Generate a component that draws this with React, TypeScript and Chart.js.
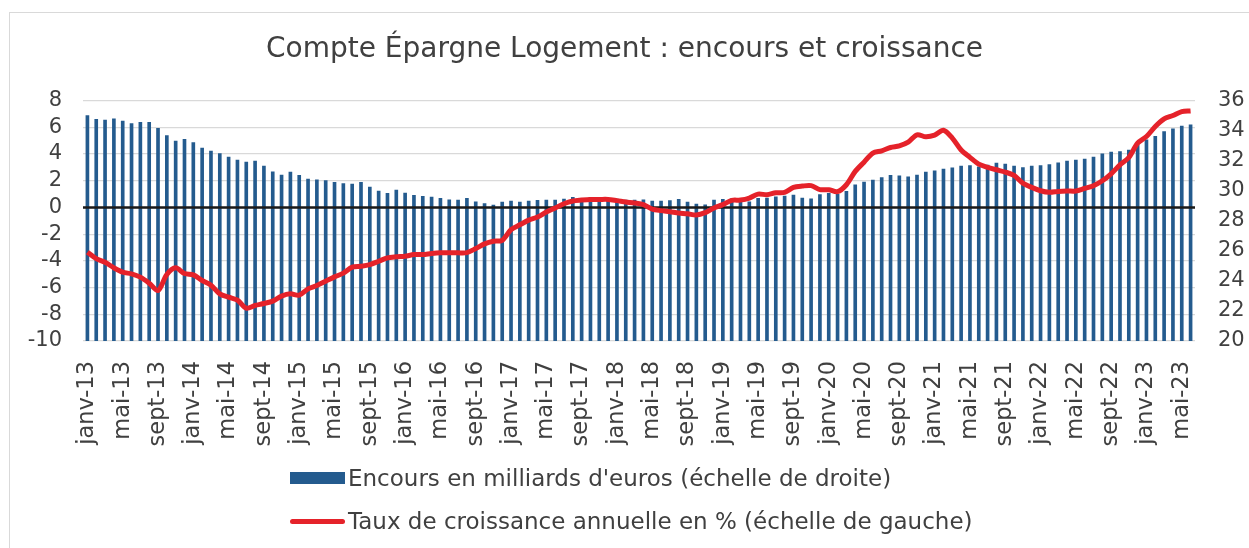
import React, { useEffect, useRef } from "react";
import { Chart, registerables } from "chart.js";

Chart.register(...registerables);

const MONTHS = ["janv", "févr", "mars", "avr", "mai", "juin", "juil", "août", "sept", "oct", "nov", "déc"];
const YEARS = ["13", "14", "15", "16", "17", "18", "19", "20", "21", "22", "23"];
const MONTHS_IN_LAST_YEAR = 6;

const CATEGORIES: string[] = [];
YEARS.forEach((yy, yi) => {
  const count = yi === YEARS.length - 1 ? MONTHS_IN_LAST_YEAR : 12;
  for (let m = 0; m < count; m++) CATEGORIES.push(`${MONTHS[m]}-${yy}`);
});

const TITLE = "Compte Épargne Logement : encours et croissance";
const BAR_LABEL = "Encours en milliards d'euros (échelle de droite)";
const LINE_LABEL = "Taux de croissance annuelle en % (échelle de gauche)";

const LEFT_TICKS = [8, 6, 4, 2, 0, -2, -4, -6, -8, -10];
const RIGHT_TICKS = [36, 34, 32, 30, 28, 26, 24, 22, 20];

// Encours (Md€) – right axis
const ENCOURS = [
  35.0, 34.76, 34.7, 34.78, 34.63, 34.47, 34.56, 34.56, 34.16, 33.68, 33.3, 33.43,
  33.21, 32.84, 32.64, 32.48, 32.24, 32.04, 31.91, 31.97, 31.64, 31.26, 31.04, 31.24,
  31.02, 30.78, 30.73, 30.67, 30.56, 30.47, 30.45, 30.56, 30.25, 29.98, 29.83, 30.05,
  29.85, 29.69, 29.63, 29.58, 29.49, 29.4, 29.38, 29.49, 29.27, 29.14, 29.05, 29.25,
  29.32, 29.25, 29.32, 29.36, 29.38, 29.38, 29.45, 29.56, 29.5, 29.56, 29.56, 29.5,
  29.45, 29.38, 29.38, 29.4, 29.32, 29.32, 29.34, 29.43, 29.25, 29.12, 29.07, 29.38,
  29.43, 29.47, 29.47, 29.27, 29.49, 29.52, 29.6, 29.65, 29.71, 29.52, 29.47, 29.74,
  29.83, 29.76, 29.96, 30.4, 30.58, 30.71, 30.87, 31.02, 31.0, 30.93, 31.04, 31.24,
  31.33, 31.44, 31.53, 31.64, 31.68, 31.6, 31.71, 31.84, 31.77, 31.64, 31.55, 31.64,
  31.68, 31.75, 31.86, 31.97, 32.04, 32.11, 32.24, 32.46, 32.57, 32.61, 32.7, 33.06,
  33.39, 33.63, 33.94, 34.12, 34.3, 34.38,
];

// Taux de croissance annuelle (%) – left axis
const CROISSANCE = [
  -3.35, -3.83, -4.1, -4.52, -4.85, -4.97, -5.22, -5.67, -6.22, -5.02, -4.52, -4.95,
  -5.05, -5.47, -5.82, -6.47, -6.72, -6.94, -7.54, -7.34, -7.19, -7.01, -6.64, -6.47,
  -6.57, -6.1, -5.84, -5.52, -5.2, -4.92, -4.47, -4.4, -4.28, -4.03, -3.78, -3.7,
  -3.65, -3.53, -3.53, -3.45, -3.4, -3.4, -3.4, -3.38, -3.08, -2.73, -2.53, -2.46,
  -1.66, -1.3, -0.95, -0.72, -0.34, -0.04, 0.28, 0.48, 0.55, 0.6, 0.6, 0.6,
  0.51, 0.41, 0.33, 0.21, -0.12, -0.24, -0.32, -0.42, -0.47, -0.57, -0.39, -0.04,
  0.21, 0.53, 0.55, 0.7, 1.0, 0.95, 1.1, 1.13, 1.5, 1.6, 1.63, 1.33,
  1.33, 1.18, 1.7, 2.7, 3.39, 4.07, 4.24, 4.49, 4.61, 4.89, 5.44, 5.29,
  5.41, 5.78, 5.19, 4.3, 3.75, 3.24, 3.0, 2.82, 2.65, 2.4, 1.82, 1.5,
  1.25, 1.13, 1.2, 1.23, 1.23, 1.43, 1.63, 2.0, 2.52, 3.19, 3.74, 4.81,
  5.31, 6.06, 6.63, 6.88, 7.18, 7.23,
];

const BAR_COLOR = "#245B8E";
const LINE_COLOR = "#E5222A";
const TEXT_COLOR = "#404040";
const GRID_COLOR = "#D9D9D9";
const FONT = "'DejaVu Sans', sans-serif";

const W = 1249;
const H = 548;

const zeroLinePlugin = {
  id: "zeroLine",
  beforeDatasetDraw(chart: any, args: any) {
    if (args.meta.type !== "line") return;
    const y = chart.scales.y.getPixelForValue(0);
    const { left, right } = chart.chartArea;
    const ctx = chart.ctx;
    ctx.save();
    ctx.strokeStyle = "#1A1A1A";
    ctx.lineWidth = 2.5;
    ctx.beginPath();
    ctx.moveTo(left, y);
    ctx.lineTo(right, y);
    ctx.stroke();
    ctx.restore();
  },
};

export default function App() {
  const canvasRef = useRef<HTMLCanvasElement | null>(null);

  useEffect(() => {
    if (!canvasRef.current) return;
    const chart = new Chart(canvasRef.current, {
      type: "bar",
      data: {
        labels: CATEGORIES,
        datasets: [
          {
            type: "line",
            label: LINE_LABEL,
            data: CROISSANCE,
            yAxisID: "y",
            borderColor: LINE_COLOR,
            backgroundColor: LINE_COLOR,
            borderWidth: 5,
            pointRadius: 0,
            tension: 0.3,
            order: 0,
          } as any,
          {
            type: "bar",
            label: BAR_LABEL,
            data: ENCOURS,
            yAxisID: "y1",
            backgroundColor: BAR_COLOR,
            barThickness: 3,
            order: 1,
          } as any,
        ],
      },
      options: {
        responsive: false,
        animation: false,
        devicePixelRatio: 1,
        layout: { padding: { top: 6, left: 0, right: 0, bottom: 0 } },
        plugins: {
          legend: { display: false },
          tooltip: { enabled: false },
          title: {
            display: true,
            text: TITLE,
            color: TEXT_COLOR,
            font: { family: FONT, size: 28, weight: "normal" },
            padding: { top: 27, bottom: 34 },
          },
        },
        scales: {
          x: {
            grid: { display: false },
            border: { display: false },
            ticks: {
              autoSkip: false,
              maxRotation: 90,
              minRotation: 90,
              padding: 12,
              color: TEXT_COLOR,
              font: { family: FONT, size: 22.5 },
              callback: (_v: any, i: number) => (i % 4 === 0 ? CATEGORIES[i] : ""),
            },
            afterFit: (s: any) => {
              s.height = 207;
            },
          },
          y: {
            position: "left",
            min: -10,
            max: 8,
            afterBuildTicks: (s: any) => {
              s.ticks = LEFT_TICKS.map((v) => ({ value: v }));
            },
            grid: { color: GRID_COLOR, lineWidth: 1.3, drawTicks: false },
            border: { display: false },
            ticks: {
              autoSkip: false,
              padding: 21,
              color: TEXT_COLOR,
              font: { family: FONT, size: 21 },
            },
            afterFit: (s: any) => {
              s.width = 83;
            },
          },
          y1: {
            position: "right",
            min: 20,
            max: 36,
            afterBuildTicks: (s: any) => {
              s.ticks = RIGHT_TICKS.map((v) => ({ value: v }));
            },
            grid: { display: false, drawTicks: false },
            border: { display: false },
            ticks: {
              autoSkip: false,
              padding: 23,
              color: TEXT_COLOR,
              font: { family: FONT, size: 21 },
            },
            afterFit: (s: any) => {
              s.width = 54;
            },
          },
        },
      },
      plugins: [zeroLinePlugin],
    });
    return () => chart.destroy();
  }, []);

  const legendText: React.CSSProperties = {
    fontFamily: FONT,
    fontSize: 23,
    color: TEXT_COLOR,
    whiteSpace: "nowrap",
    lineHeight: "26px",
  };

  return (
    <div style={{ position: "absolute", left: 0, top: 0, width: W, height: H, background: "#fff", overflow: "hidden" }}>
      <div
        style={{
          position: "absolute",
          left: 9,
          top: 12,
          width: W,
          height: H,
          borderLeft: `1px solid ${GRID_COLOR}`,
          borderTop: `1px solid ${GRID_COLOR}`,
        }}
      />
      <canvas ref={canvasRef} width={W} height={H} style={{ position: "absolute", left: 0, top: 0 }} />
      <div style={{ position: "absolute", left: 290, top: 465, display: "flex", alignItems: "center" }}>
        <span style={{ display: "inline-block", width: 55, height: 12, background: BAR_COLOR, marginRight: 3 }} />
        <span style={legendText}>{BAR_LABEL}</span>
      </div>
      <div style={{ position: "absolute", left: 290, top: 508, display: "flex", alignItems: "center" }}>
        <span style={{ display: "inline-block", width: 55, height: 5, borderRadius: 3, background: LINE_COLOR, marginRight: 3 }} />
        <span style={legendText}>{LINE_LABEL}</span>
      </div>
    </div>
  );
}
